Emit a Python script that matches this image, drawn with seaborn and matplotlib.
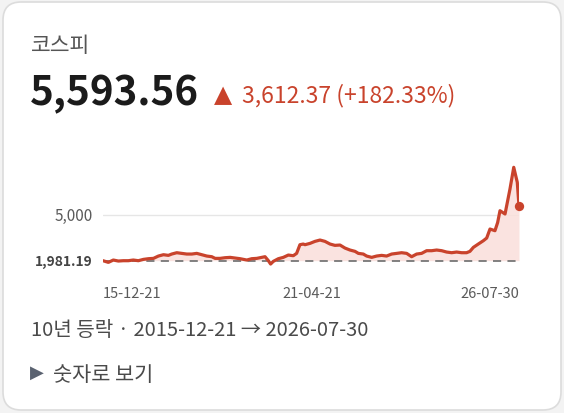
import matplotlib
matplotlib.use("Agg")
import matplotlib.pyplot as plt
import seaborn as sns
import pandas as pd
import numpy as np
from matplotlib.patches import FancyBboxPatch

sns.set_theme(style="white")
plt.rcParams['font.family'] = ['Noto Sans CJK KR', 'DejaVu Sans']

title = "코스피"
last_value = "5,593.56"
change_text = "3,612.37 (+182.33%)"
period_text = "10년 등락 · 2015-12-21 → 2026-07-30"
toggle_text = "숫자로 보기"
base_value = 1981.19
grid_value = 5000
tick_dates = ["2015-12-21", "2021-04-21", "2026-07-30"]
tick_labels = ["15-12-21", "21-04-21", "26-07-30"]

dates = [
    "2015-12-21", "2016-02-09", "2016-03-26", "2016-05-12", "2016-06-27", "2016-08-13",
    "2016-09-28", "2016-11-14", "2017-01-01", "2017-02-16", "2017-04-04", "2017-05-20",
    "2017-07-06", "2017-08-21", "2017-09-21", "2017-11-07", "2017-12-23", "2018-02-08",
    "2018-03-27", "2018-05-12", "2018-06-28", "2018-08-13", "2018-09-29", "2018-10-30",
    "2018-12-15", "2019-01-31", "2019-03-19", "2019-05-04", "2019-06-20", "2019-08-21",
    "2019-10-06", "2019-11-22", "2020-01-07", "2020-02-07", "2020-03-09", "2020-03-30",
    "2020-04-24", "2020-06-10", "2020-07-26", "2020-09-11", "2020-10-27", "2020-11-27",
    "2020-12-28", "2021-01-28", "2021-02-13", "2021-04-01", "2021-05-17", "2021-07-03",
    "2021-08-18", "2021-10-04", "2021-11-19", "2022-01-05", "2022-02-20", "2022-04-08",
    "2022-05-25", "2022-06-25", "2022-08-10", "2022-09-10", "2022-10-27", "2022-12-12",
    "2023-01-28", "2023-03-15", "2023-05-01", "2023-06-17", "2023-08-02", "2023-09-18",
    "2023-11-03", "2023-12-20", "2024-02-04", "2024-03-22", "2024-05-08", "2024-06-23",
    "2024-08-09", "2024-09-24", "2024-11-10", "2024-12-26", "2025-02-11", "2025-03-29",
    "2025-04-29", "2025-05-31", "2025-07-16", "2025-09-01", "2025-10-02", "2025-11-02",
    "2025-12-18", "2026-01-12", "2026-02-03", "2026-03-22", "2026-05-07", "2026-06-11",
    "2026-07-14", "2026-07-30",
]
values = [
    1981.19, 1871, 2025, 1959, 1981, 1981,
    2025, 1981, 2069, 2113, 2135, 2289,
    2377, 2333, 2421, 2509, 2465, 2421,
    2421, 2465, 2377, 2289, 2245, 2135,
    2135, 2179, 2201, 2157, 2113, 2025,
    2113, 2135, 2201, 2245, 1981, 1761,
    1937, 2113, 2201, 2355, 2311, 2465,
    3038, 3082, 3038, 3126, 3258, 3346,
    3258, 3082, 2994, 3016, 2818, 2686,
    2598, 2465, 2421, 2289, 2201, 2289,
    2333, 2289, 2421, 2465, 2509, 2465,
    2245, 2421, 2465, 2642, 2642, 2686,
    2642, 2553, 2509, 2553, 2509, 2509,
    2598, 2862, 3082, 3302, 3478, 4073,
    3963, 4500, 5284, 5066, 6718, 8151,
    7160, 5593.56,
]

df = pd.DataFrame({"date": pd.to_datetime(dates), "value": values})

W, H = 564, 414
fig = plt.figure(figsize=(W / 100, H / 100), dpi=100)
fig.patch.set_facecolor("#f3f3f3")

# card
card = FancyBboxPatch((3 / W, 3 / H), 558 / W, 408 / H,
                      boxstyle="round,pad=0,rounding_size=0.032",
                      transform=fig.transFigure, facecolor="white",
                      edgecolor="#dcdcdc", linewidth=1.2, zorder=-5,
                      mutation_aspect=W / H)
fig.patches.append(card)

red = "#c9432c"

# axes in pixel layout
left, right = 103, 519
top, bottom = 160, 268
ax = fig.add_axes([left / W, 1 - bottom / H, (right - left) / W, (bottom - top) / H])
ax.set_zorder(2)
ax.set_facecolor("none")
ax.patch.set_alpha(0)

sns.lineplot(data=df, x="date", y="value", ax=ax, color=red, linewidth=2.3, zorder=3)
ax.fill_between(df["date"], df["value"], base_value, color="#fadfdb", alpha=0.85,
                linewidth=0, zorder=1)
ax.scatter(df["date"].iloc[-1:], df["value"].iloc[-1:], s=45, color=red, zorder=4,
           clip_on=False, linewidth=0)

ax.axhline(grid_value, color="#e6e6e6", linewidth=1.0, zorder=0)
ax.axhline(base_value, color="#777777", linewidth=1.3, linestyle=(0, (4.5, 3.5)), zorder=2)

ax.set_xlim(df["date"].iloc[0], df["date"].iloc[-1])
ax.set_ylim(1565, 8700)
for s in ax.spines.values():
    s.set_visible(False)
ax.set_xlabel("")
ax.set_ylabel("")
ax.set_xticks([])
ax.set_yticks([])

# y labels
trans_y = matplotlib.transforms.blended_transform_factory(fig.transFigure, ax.transData)
ax.text(93 / W, grid_value, "5,000", transform=trans_y, ha="right", va="center",
        fontsize=11, color="#5a5a5a", clip_on=False)
ax.text(93 / W, base_value, "1,981.19", transform=trans_y, ha="right", va="center",
        fontsize=10, color="#444444", fontweight="semibold", clip_on=False)

# x labels
trans_x = matplotlib.transforms.blended_transform_factory(ax.transData, fig.transFigure)
aligns = ["left", "center", "right"]
for d, lab, a in zip(tick_dates, tick_labels, aligns):
    ax.text(pd.Timestamp(d), 1 - 298 / H, lab, transform=trans_x, ha=a, va="baseline",
            fontsize=10.5, color="#5a5a5a", clip_on=False)

# header texts
fig.text(31 / W, 1 - 52 / H, title, fontsize=15.5, color="#555555", va="baseline", ha="left")
fig.text(30 / W, 1 - 105 / H, last_value, fontsize=29, fontweight="bold", color="#1b1b1b",
         va="baseline", ha="left")
fig.text(214 / W, 1 - 102 / H, "▲", fontsize=17, color=red, va="baseline", ha="left",
         family=["DejaVu Sans"])
fig.text(242 / W, 1 - 102 / H, change_text, fontsize=16.5, color=red, va="baseline", ha="left")

fig.text(31 / W, 1 - 336 / H, period_text, fontsize=14.5, color="#4a4a4a", va="baseline",
         ha="left")
fig.text(30 / W, 1 - 378 / H, "▶", fontsize=13, color="#5a6270", va="baseline", ha="left",
         family=["DejaVu Sans"])
fig.text(53 / W, 1 - 381 / H, toggle_text, fontsize=15, color="#4a4a4a", va="baseline",
         ha="left")

fig.savefig("out.png", dpi=100, facecolor=fig.get_facecolor())
